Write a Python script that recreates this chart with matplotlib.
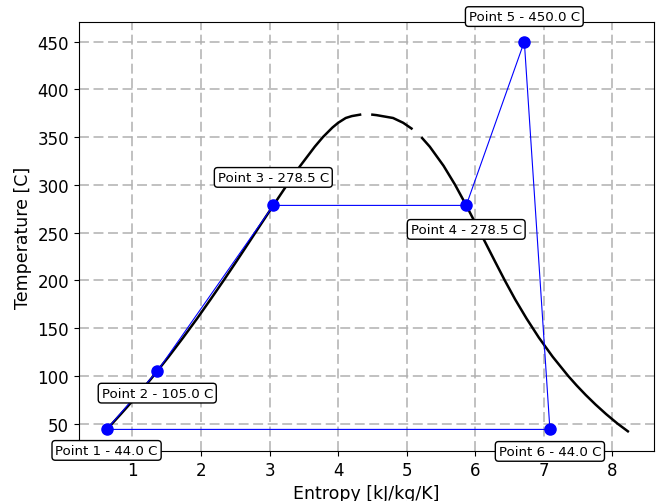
import numpy as np
import matplotlib
matplotlib.use("Agg")
import matplotlib.pyplot as plt

# saturation dome of water (liquid side then vapour side), NaN = gap in the line
dome_s = [0.599, 0.704, 0.831, 0.955, 1.076, 1.193, 1.307, 1.528, 1.739, 1.943,
          2.139, 2.331, 2.518, 2.702, 2.885, 3.069, 3.255, 3.449, 3.660, 3.778,
          3.917, 4.001, 4.111, 4.200, 4.320, np.nan,
          4.500, 4.560, 4.640, 4.801, 4.948, 5.070, np.nan,
          5.225, 5.336, 5.537, 5.706, 5.857, 6.001, 6.144, 6.286, 6.430, 6.582,
          6.748, 6.928, 7.129, 7.354, 7.478, 7.611, 7.754, 7.908, 8.075, 8.225]
dome_T = [42, 50, 60, 70, 80, 90, 100, 120, 140, 160,
          180, 200, 220, 240, 260, 280, 300, 320, 340, 350,
          360, 365, 370, 372, 373.5, np.nan,
          373.5, 373, 372, 370, 365, 359, np.nan,
          349, 340, 320, 300, 280, 260, 240, 220, 200, 180,
          160, 140, 120, 100, 90, 80, 70, 60, 50, 42]

# Rankine cycle points
cyc_s = [0.624, 1.363, 3.055, 5.868, 6.715, 7.088]
cyc_T = [44.0, 105.0, 278.5, 278.5, 450.0, 44.0]
# label offsets in pixels (dx, dy)
lab_off = [(0, -21), (0, -22), (0, 28), (0, -24), (0, 25), (0, -22)]

fig = plt.figure(figsize=(6.56, 5.02), dpi=100)
ax = fig.add_axes([0.120, 0.100, 0.877, 0.854])

ax.plot(dome_s, dome_T, color="black", lw=1.8)
ax.plot(cyc_s + [cyc_s[0]], cyc_T + [cyc_T[0]], color="blue", lw=0.8)
ax.plot(cyc_s, cyc_T, "o", color="blue", ms=8)

for i in range(len(cyc_s)):
    ax.annotate("Point %d - %.1f C" % (i + 1, cyc_T[i]), xy=(cyc_s[i], cyc_T[i]),
                xytext=lab_off[i], textcoords="offset pixels",
                ha="center", va="center", fontsize=9.6, zorder=5,
                bbox=dict(boxstyle="round,pad=0.25", fc="white", ec="black", lw=1))

ax.grid(True, color="#b0b0b0", linestyle=(0, (6.5, 3)), lw=1.1)
ax.set_xlabel("Entropy [kJ/kg/K]", fontsize=12.5)
ax.set_ylabel("Temperature [C]", fontsize=12.5)
ax.tick_params(labelsize=12)
ax.set_xticks(range(1, 9))

fig.savefig("out.png", dpi=100)
